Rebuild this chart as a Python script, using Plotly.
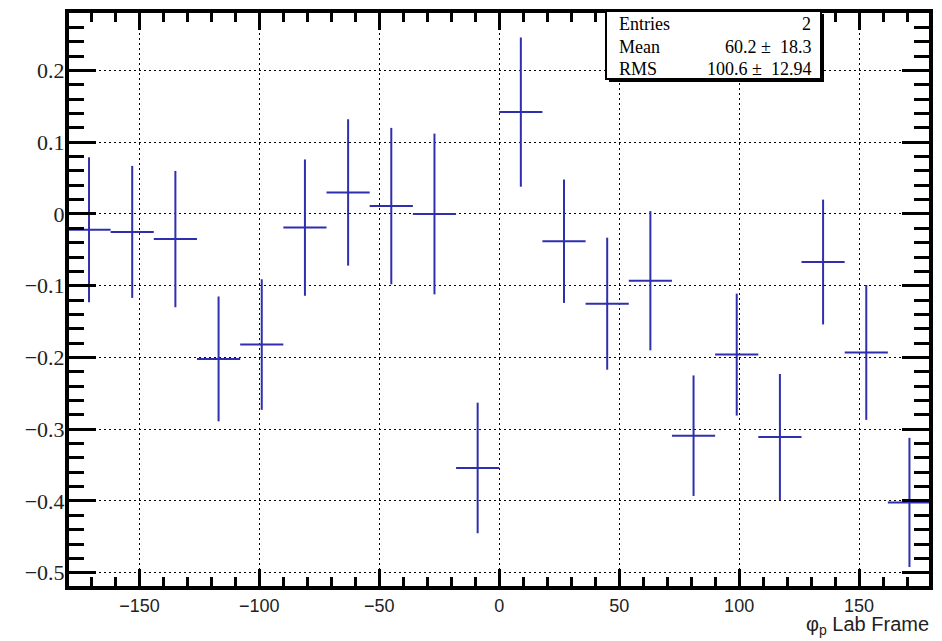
import plotly.graph_objects as go

# phi_p bin centres (18 deg bins) and measured asymmetry with errors
bin_centers = [-171, -153, -135, -117, -99, -81, -63, -45, -27, -9,
               9, 27, 45, 63, 81, 99, 117, 135, 153, 171]
values = [-0.022, -0.025, -0.035, -0.202, -0.182, -0.019, 0.030, 0.011, 0.000, -0.354,
          0.142, -0.038, -0.125, -0.093, -0.309, -0.196, -0.311, -0.067, -0.193, -0.402]
errors = [0.101, 0.092, 0.095, 0.087, 0.091, 0.095, 0.102, 0.109, 0.112, 0.091,
          0.104, 0.086, 0.092, 0.097, 0.084, 0.085, 0.088, 0.087, 0.094, 0.090]
half_bin = 9

stats_labels = ["Entries", "Mean", "RMS"]
stats_values = ["2", "60.2 \u00b1  18.3", "100.6 \u00b1  12.94"]

# page body has an 8px margin, so the figure is drawn 8px smaller and
# everything below is given in window pixels minus that offset
OFF = 8
W, H = 942 - OFF, 641 - OFF
L, R, T, B = 69 - OFF, 929 - OFF, 13 - OFF, 586 - OFF
blue = "#2f2fae"


def px(x):
    return (x - OFF - L) / (R - L)


def py(y):
    return (B - (y - OFF)) / (B - T)


fig = go.Figure()
fig.add_trace(go.Scatter(
    x=bin_centers, y=values, mode="markers",
    marker=dict(size=2, color=blue),
    error_x=dict(type="constant", value=half_bin, width=0, thickness=2, color=blue),
    error_y=dict(type="data", array=errors, width=0, thickness=2, color=blue),
    showlegend=False, hoverinfo="x+y"))

grid = dict(showgrid=True, gridcolor="black", gridwidth=1.3, griddash="2px,3px",
            zeroline=False, showline=True, linecolor="black", linewidth=4,
            ticks="inside", mirror="allticks", tickcolor="black", tickwidth=3,
            layer="above traces", automargin=False)

fig.update_xaxes(range=[-179.35, 179.15], dtick=50, tick0=0, ticklen=17,
                 minor=dict(dtick=10, ticklen=9, ticks="inside", tickcolor="black", tickwidth=3),
                 tickfont=dict(family="Liberation Sans", size=18, color="#222"), **grid)
fig.update_yaxes(range=[-0.5185, 0.2801], dtick=0.1, tick0=0, ticklen=27,
                 minor=dict(dtick=0.02, ticklen=15, ticks="inside", tickcolor="black", tickwidth=3),
                 tickfont=dict(family="Liberation Serif", size=22, color="#222"),
                 ticklabelstandoff=-4, **grid)

shapes = [
    dict(type="rect", xref="paper", yref="paper", x0=px(609), x1=px(824), y0=py(82), y1=py(14),
         fillcolor="black", line=dict(width=0)),
    dict(type="rect", xref="paper", yref="paper", x0=px(606), x1=px(821), y0=py(79), y1=py(11),
         fillcolor="white", line=dict(color="black", width=2)),
]

annotations = []
rows_y = [24, 47, 69]
for lab, val, yy in zip(stats_labels, stats_values, rows_y):
    annotations.append(dict(xref="paper", yref="paper", x=px(617), y=py(yy), text=lab,
                            xanchor="left", yanchor="middle", showarrow=False,
                            font=dict(family="Liberation Serif", size=18, color="black")))
    annotations.append(dict(xref="paper", yref="paper", x=px(813), y=py(yy), text=val,
                            xanchor="right", yanchor="middle", showarrow=False,
                            font=dict(family="Liberation Serif", size=18, color="black")))

annotations.append(dict(xref="paper", yref="paper", x=px(931), y=py(625),
                        text="\u03c6<sub>p</sub> Lab Frame", xanchor="right", yanchor="middle",
                        showarrow=False,
                        font=dict(family="Liberation Sans", size=20, color="#222")))

fig.update_layout(width=W, height=H, margin=dict(l=L, r=W - R, t=T, b=H - B),
                  paper_bgcolor="white", plot_bgcolor="white",
                  shapes=shapes, annotations=annotations)

fig.write_html("out.html")
